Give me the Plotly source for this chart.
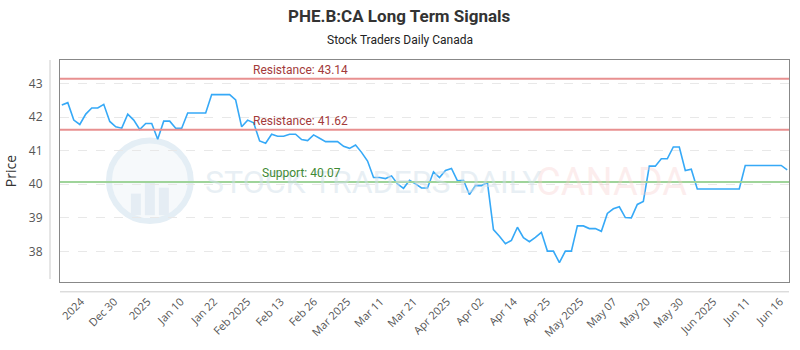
import plotly.graph_objects as go
import numpy as np

# ---- data ----
prices = [
    42.36, 42.43, 41.91, 41.78, 42.09, 42.27, 42.27, 42.38, 41.87, 41.71,
    41.67, 42.09, 41.91, 41.63, 41.81, 41.81, 41.34, 41.88, 41.88, 41.67,
    41.67, 42.12, 42.12, 42.12, 42.12, 42.67, 42.67, 42.67, 42.67, 42.51,
    41.71, 41.91, 41.83, 41.29, 41.22, 41.49, 41.43, 41.43, 41.49, 41.49,
    41.33, 41.30, 41.47, 41.37, 41.27, 41.27, 41.27, 41.13, 41.07, 41.17,
    40.95, 40.69, 40.20, 40.20, 40.17, 40.25, 40.01, 39.88, 40.12, 40.01,
    39.89, 39.89, 40.37, 40.20, 40.41, 40.47, 40.10, 40.12, 39.69, 39.96,
    39.96, 40.05, 38.65, 38.45, 38.23, 38.33, 38.72, 38.41, 38.29, 38.42,
    38.57, 38.01, 38.01, 37.67, 38.01, 38.01, 38.76, 38.76, 38.68, 38.68,
    38.60, 39.13, 39.27, 39.33, 39.01, 39.00, 39.40, 39.49, 40.54, 40.54,
    40.76, 40.76, 41.11, 41.11, 40.41, 40.45, 39.86, 39.86, 39.86, 39.86,
    39.86, 39.86, 39.86, 39.86, 40.56, 40.56, 40.56, 40.56, 40.56, 40.56,
    40.56, 40.43,
]
tick_labels = ["2024", "Dec 30", "2025", "Jan 10", "Jan 22", "Feb 2025", "Feb 13",
               "Feb 26", "Mar 2025", "Mar 11", "Mar 21", "Apr 2025", "Apr 02",
               "Apr 14", "Apr 25", "May 2025", "May 07", "May 20", "May 30",
               "Jun 2025", "Jun 11", "Jun 16"]
resistance_levels = [43.14, 41.62]
support_levels = [40.07]

x = list(range(len(prices)))
tickvals = list(np.linspace(3.2, 119.8, len(tick_labels)))

# plot geometry (pixels)
W, H = 800, 350
L, R, T, B = 60, 10, 60, 64
pw, ph = W - L - R, H - T - B

fig = go.Figure()
fig.add_trace(go.Scatter(x=x, y=prices, mode="lines",
                         line=dict(color="#36a9f7", width=1.6),
                         hoverinfo="skip", showlegend=False))

shapes = []
annotations = []

def px2paper(px, py):
    return (px - L) / pw, (H - B - py) / ph

# watermark logo (circle + bars)
cx, cy, rr = 150, 183, 41
x0, y0 = px2paper(cx - rr, cy + rr)
x1, y1 = px2paper(cx + rr, cy - rr)
shapes.append(dict(type="circle", xref="paper", yref="paper", x0=x0, y0=y0, x1=x1, y1=y1,
                   line=dict(color="#e4eef5", width=6), fillcolor="rgba(242,247,250,0.7)",
                   layer="below"))
for bx, btop in [(131, 196), (145, 184), (159, 190)]:
    a0, b0 = px2paper(bx, 218)
    a1, b1 = px2paper(bx + 10, btop)
    shapes.append(dict(type="rect", xref="paper", yref="paper", x0=a0, y0=b0, x1=a1, y1=b1,
                       line=dict(width=0), fillcolor="#e5edf4", layer="below"))

annotations.append(dict(text="STOCK TRADERS DAILY", xref="paper", yref="paper",
                        x=(203 - L) / pw, y=(H - B - 184) / ph, xanchor="left", yanchor="middle",
                        showarrow=False,
                        font=dict(family="Roboto", size=32, color="rgba(210,223,234,0.5)")))
annotations.append(dict(text="CANADA", xref="paper", yref="paper",
                        x=(535 - L) / pw, y=(H - B - 184) / ph, xanchor="left", yanchor="middle",
                        showarrow=False,
                        font=dict(family="Roboto", size=38, color="rgba(248,205,205,0.35)")))

for lv in resistance_levels:
    shapes.append(dict(type="line", xref="paper", yref="y", x0=0, x1=1, y0=lv, y1=lv,
                       line=dict(color="#e89090", width=2)))
    annotations.append(dict(text=f"Resistance: {lv:.2f}", xref="paper", yref="y",
                            x=(251 - L) / pw, y=lv, xanchor="left", yanchor="bottom",
                            showarrow=False,
                            font=dict(family="Roboto", size=12, color="#a33a3a")))
for lv in support_levels:
    shapes.append(dict(type="line", xref="paper", yref="y", x0=0, x1=1, y0=lv, y1=lv,
                       line=dict(color="#9fd49a", width=2)))
    annotations.append(dict(text=f"Support: {lv:.2f}", xref="paper", yref="y",
                            x=(260 - L) / pw, y=lv, xanchor="left", yanchor="bottom",
                            showarrow=False,
                            font=dict(family="Roboto", size=12, color="#3f8a35")))

# outer axis lines
shapes.append(dict(type="line", xref="paper", yref="paper", x0=-10 / pw, x1=-10 / pw,
                   y0=3 / ph, y1=1, line=dict(color="#cccccc", width=1)))
shapes.append(dict(type="line", xref="paper", yref="paper", x0=0, x1=1,
                   y0=-10 / ph, y1=-10 / ph, line=dict(color="#cccccc", width=1)))

annotations.append(dict(text="<b>PHE.B:CA Long Term Signals</b>", xref="paper", yref="paper",
                        x=(400 - L) / pw, y=1 + (T - 15) / ph, xanchor="center", yanchor="middle",
                        showarrow=False, font=dict(family="Roboto", size=17, color="#333333")))
annotations.append(dict(text="Stock Traders Daily Canada", xref="paper", yref="paper",
                        x=(400 - L) / pw, y=1 + (T - 40) / ph, xanchor="center", yanchor="middle",
                        showarrow=False, font=dict(family="Roboto", size=12, color="#222222")))

fig.update_layout(
    width=W, height=H,
    margin=dict(l=L, r=R, t=T, b=B),
    paper_bgcolor="white", plot_bgcolor="white",
    shapes=shapes, annotations=annotations,
    xaxis=dict(range=[-0.3, len(prices) - 0.7], tickmode="array", tickvals=tickvals,
               ticktext=tick_labels, tickangle=-45, showgrid=False, zeroline=False,
               showline=True, mirror=True, linecolor="#888888", linewidth=1,
               ticks="", ticklabelstandoff=8,
               tickfont=dict(family="Open Sans", size=11, color="#555555")),
    yaxis=dict(range=[37.09, 43.70], tickvals=[38, 39, 40, 41, 42, 43],
               showgrid=True, gridcolor="#e8e8e8", griddash="dash", gridwidth=1,
               zeroline=False, showline=True, mirror=True, linecolor="#888888", linewidth=1,
               ticks="", ticklabelstandoff=14,
               tickfont=dict(family="Open Sans", size=12, color="#555555"),
               title=dict(text="Price", standoff=8,
                          font=dict(family="Open Sans", size=14, color="#333333"))),
)

fig.write_html("out.html")
